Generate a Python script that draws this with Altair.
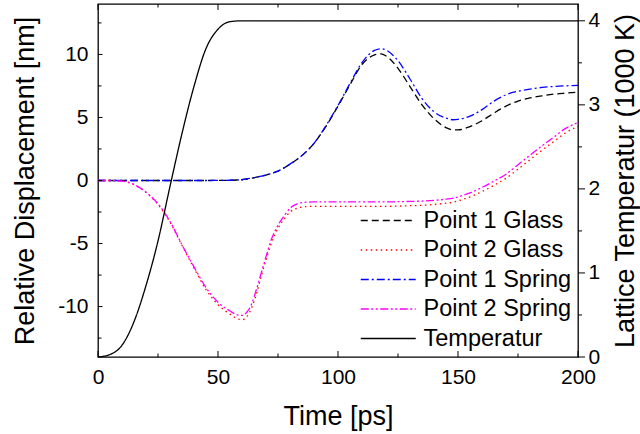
import altair as alt
import pandas as pd

# ---------------- data ----------------
time_disp = [0, 5, 10, 15, 20, 25, 30, 35, 40, 45, 50, 55, 58, 60, 62, 64, 66, 68, 70, 72,
             75, 78, 80, 83, 86, 90, 95, 100, 105, 110, 115, 118, 120, 125, 130, 135, 140,
             145, 148, 150, 155, 160, 165, 170, 175, 180, 185, 190, 195, 200]

p1_glass = [0, 0, 0, 0, 0, 0, 0, 0, 0, 0, 0.01, 0.02, 0.04, 0.06, 0.12, 0.19, 0.26, 0.34, 0.43, 0.55,
            0.75, 1.05, 1.3, 1.68, 2.15, 2.95, 4.3, 5.9, 7.6, 9.2, 9.95, 10.05, 9.88, 8.9, 7.45, 6.0, 4.9,
            4.2, 4.02, 4.02, 4.28, 4.74, 5.35, 5.9, 6.3, 6.55, 6.72, 6.85, 6.93, 7.0]

p1_spring = [0, 0, 0, 0, 0, 0, 0, 0, 0, 0, 0.01, 0.02, 0.04, 0.06, 0.12, 0.19, 0.26, 0.34, 0.43, 0.55,
             0.75, 1.05, 1.3, 1.68, 2.15, 2.95, 4.35, 5.95, 7.7, 9.35, 10.3, 10.45, 10.35, 9.5, 8.05, 6.5, 5.45,
             4.95, 4.82, 4.85, 5.1, 5.62, 6.3, 6.8, 7.08, 7.25, 7.38, 7.46, 7.51, 7.55]

p2_glass = [0, 0, -0.05, -0.32, -0.95, -1.9, -3.3, -5.15, -6.95, -8.65, -9.85, -10.6, -10.95, -11.05, -10.8,
            -10.1, -9.0, -7.6, -6.3, -5.1, -3.8, -2.95, -2.5, -2.2, -2.08, -2.05, -2.05, -2.05, -2.05, -2.05,
            -2.05, -2.05, -2.05, -2.03, -2.0, -1.97, -1.9, -1.8, -1.72, -1.62, -1.3, -0.88, -0.38, 0.18, 0.9,
            1.65, 2.4, 3.1, 3.8, 4.3]

p2_spring = [0, 0, -0.05, -0.32, -0.92, -1.85, -3.25, -5.1, -6.85, -8.5, -9.65, -10.35, -10.65, -10.7, -10.45,
             -9.8, -8.65, -7.35, -6.05, -4.8, -3.55, -2.68, -2.2, -1.85, -1.73, -1.7, -1.7, -1.7, -1.7, -1.7,
             -1.7, -1.7, -1.7, -1.68, -1.66, -1.63, -1.58, -1.48, -1.4, -1.3, -0.98, -0.55, -0.05, 0.5, 1.25,
             2.0, 2.75, 3.45, 4.15, 4.6]

time_temp = [0, 5, 10, 15, 20, 25, 30, 35, 40, 45, 50, 55, 60, 200]
temperature = [0, 0.03, 0.14, 0.42, 0.85, 1.38, 2.03, 2.66, 3.22, 3.67, 3.9, 3.99, 4.0, 4.0]

series_names = ["Point 1 Glass", "Point 2 Glass", "Point 1 Spring", "Point 2 Spring", "Temperatur"]
series_colors = ["#000000", "#ff0000", "#0000ff", "#ff00ff", "#000000"]
series_dashes = [[7, 4], [1.5, 3.5], [8, 3, 2, 3], [8, 2.5, 2, 2.5, 2, 2.5], [1, 0]]

x_major = [0, 50, 100, 150, 200]
x_minor = [25, 75, 125, 175]
left_major = [-10, -5, 0, 5, 10]
left_minor = [-12.5, -7.5, -2.5, 2.5, 7.5, 12.5]
right_major = [0, 1, 2, 3, 4]
right_minor = [0.5, 1.5, 2.5, 3.5]

# ---------------- tables ----------------
rows = []
for name, vals in zip(series_names[:4], [p1_glass, p2_glass, p1_spring, p2_spring]):
    for t, v in zip(time_disp, vals):
        rows.append({"time": t, "value": v, "series": name})
disp_df = pd.DataFrame(rows)
temp_df = pd.DataFrame({"time": time_temp, "T": temperature, "series": "Temperatur"})

W, H = 480, 353
FONT = "Liberation Sans"

# legend: a long horizontal stroke symbol (custom path) so row height is set by the label size
legend = alt.Legend(title=None, orient="none", legendX=277.75, legendY=204,
                    symbolType="M-2.34,0L2.34,0", symbolSize=552.25, symbolStrokeWidth=1.3,
                    symbolFillColor="transparent",
                    labelFontSize=23.5, labelFont=FONT, labelColor="black",
                    labelOffset=22.75, rowPadding=5.5, padding=0, labelLimit=400)
color_enc = alt.Color("series:N", scale=alt.Scale(domain=series_names, range=series_colors), legend=legend)
dash_enc = alt.StrokeDash("series:N", scale=alt.Scale(domain=series_names, range=series_dashes), legend=legend)

x_axis = alt.Axis(values=x_major, ticks=False, tickSize=0, domain=False, grid=False,
                  labelFontSize=21, labelPadding=9, labelFlush=False, labelColor="black",
                  title="Time [ps]", titleFontSize=27, titleFontWeight="normal", titleColor="black",
                  titleX=W / 2, titleY=46, titleBaseline="top", titleAlign="center")
left_axis = alt.Axis(values=left_major, ticks=False, tickSize=0, domain=False, grid=False,
                     labelFontSize=21, labelPadding=10, labelColor="black",
                     labelExpr="'' + datum.value",
                     title="Relative Displacement [nm]", titleFontSize=27, titleFontWeight="normal",
                     titleColor="black", titleAngle=270, titleBaseline="bottom",
                     titleX=-59, titleY=H / 2, titleAlign="center")
right_axis = alt.Axis(orient="right", values=right_major, ticks=False, tickSize=0, domain=False, grid=False,
                      labelFontSize=21, labelPadding=10, labelColor="black",
                      labelExpr="'' + datum.value",
                      title="Lattice Temperatur (1000 K)", titleFontSize=27, titleFontWeight="normal",
                      titleColor="black", titleAngle=270, titleBaseline="top",
                      titleX=34, titleY=H / 2, titleAlign="center")

xscale = alt.Scale(domain=[0, 200], nice=False, zero=False)
lscale = alt.Scale(domain=[-14, 14], nice=False, zero=False)
rscale = alt.Scale(domain=[0, 4.2], nice=False, zero=False)

lines = alt.Chart(disp_df).mark_line(strokeWidth=1.3, interpolate="monotone").encode(
    x=alt.X("time:Q", scale=xscale, axis=x_axis),
    y=alt.Y("value:Q", scale=lscale, axis=left_axis),
    color=color_enc, strokeDash=dash_enc, order=alt.Order("time:Q"))

def vticks(vals, top, length):
    y0 = 0 if top else H
    y1 = length if top else H - length
    return alt.Chart(pd.DataFrame({"time": vals})).mark_rule(color="black", strokeWidth=1).encode(
        x=alt.X("time:Q", scale=xscale, axis=x_axis), y=alt.value(y0), y2=alt.value(y1))

def lticks(vals, length):
    return alt.Chart(pd.DataFrame({"value": vals})).mark_rule(color="black", strokeWidth=1).encode(
        y=alt.Y("value:Q", scale=lscale, axis=left_axis), x=alt.value(0), x2=alt.value(length))

layer_left = alt.layer(
    lines,
    vticks(x_major, False, 6), vticks(x_minor, False, 3.5),
    vticks(x_major, True, 6), vticks(x_minor, True, 3.5),
    lticks(left_major, 4.5), lticks(left_minor, 3.5),
)

temp_line = alt.Chart(temp_df).mark_line(strokeWidth=1.3, interpolate="monotone").encode(
    x=alt.X("time:Q", scale=xscale, axis=x_axis),
    y=alt.Y("T:Q", scale=rscale, axis=right_axis),
    color=color_enc, strokeDash=dash_enc)

def rticks(vals, length):
    return alt.Chart(pd.DataFrame({"T": vals})).mark_rule(color="black", strokeWidth=1).encode(
        y=alt.Y("T:Q", scale=rscale, axis=right_axis), x=alt.value(W), x2=alt.value(W + length))

layer_right = alt.layer(temp_line, rticks(right_major, 7), rticks(right_minor, 4))

chart = alt.layer(layer_left, layer_right).resolve_scale(y="independent").properties(
    width=W, height=H,
    autosize=alt.AutoSizeParams(type="none"),
    padding={"left": 98, "top": 4, "right": 62, "bottom": 77},
).configure(font=FONT).configure_view(stroke="black", strokeWidth=1.3)

chart.save("out.html", embed_options={"renderer": "svg", "actions": False})
